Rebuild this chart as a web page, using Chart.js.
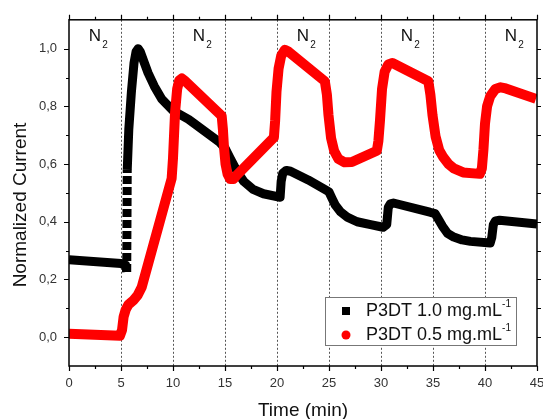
<!DOCTYPE html>
<html>
<head>
<meta charset="utf-8">
<script src="https://cdn.jsdelivr.net/npm/chart.js@4.4.0/dist/chart.umd.min.js"></script>
<style>
  html, body { margin: 0; padding: 0; background: #fff; overflow: hidden; }
  canvas { display: block; }
</style>
</head>
<body>
<canvas id="currentChart" width="560" height="419"></canvas>
<script>
// P3DT 1.0 mg/mL (black)
var timeHigh = [0, 5.0, 5.45, 5.55, 5.6, 5.75, 6.0, 6.25, 6.45, 6.65, 6.85, 7.2, 7.6, 8.2, 8.9, 10, 11.5, 13, 14.5, 15.0, 15.5, 16.2, 16.8, 17.7, 18.7, 20.3, 20.4, 20.55, 20.9, 21.3, 23, 24.8, 25.0, 25.3, 25.6, 26.1, 26.8, 27.7, 29, 30.2, 30.55, 30.7, 30.9, 31.2, 34.7, 35.2, 35.5, 35.9, 36.4, 37.0, 37.8, 38.6, 40.5, 40.65, 40.8, 41.0, 41.4, 45];
var currentHigh = [0.268, 0.255, 0.25, 0.226, 0.58, 0.72, 0.85, 0.95, 0.99, 1.0, 0.99, 0.955, 0.916, 0.87, 0.826, 0.785, 0.755, 0.715, 0.675, 0.655, 0.62, 0.572, 0.54, 0.512, 0.497, 0.485, 0.54, 0.568, 0.578, 0.575, 0.545, 0.508, 0.503, 0.48, 0.458, 0.435, 0.415, 0.40, 0.39, 0.381, 0.39, 0.45, 0.462, 0.465, 0.433, 0.428, 0.41, 0.385, 0.36, 0.347, 0.337, 0.332, 0.326, 0.345, 0.39, 0.403, 0.405, 0.392];

// P3DT 0.5 mg/mL (red)
var timeLow = [0, 4.9, 5.1, 5.25, 5.45, 5.7, 6.2, 6.6, 7.0, 9.87, 10.0, 10.2, 10.4, 10.6, 10.85, 11.1, 14.68, 14.8, 14.9, 15.05, 15.25, 15.5, 15.8, 16.1, 19.7, 19.82, 19.95, 20.15, 20.4, 20.75, 21.1, 24.6, 24.8, 24.95, 25.2, 25.5, 25.9, 26.5, 27.2, 29.6, 29.75, 29.9, 30.1, 30.35, 30.7, 31.1, 34.55, 34.75, 34.95, 35.25, 35.6, 36.0, 36.5, 37.0, 37.9, 39.5, 39.7, 39.85, 40.0, 40.2, 40.5, 41.0, 41.5, 42, 44.9];
var currentLow = [0.012, 0.005, 0.025, 0.07, 0.095, 0.112, 0.128, 0.145, 0.174, 0.55, 0.62, 0.78, 0.86, 0.89, 0.897, 0.89, 0.767, 0.72, 0.66, 0.60, 0.565, 0.548, 0.548, 0.56, 0.692, 0.75, 0.85, 0.93, 0.975, 0.996, 0.99, 0.887, 0.84, 0.77, 0.69, 0.645, 0.618, 0.606, 0.607, 0.646, 0.68, 0.75, 0.86, 0.92, 0.945, 0.95, 0.887, 0.84, 0.77, 0.695, 0.648, 0.623, 0.60, 0.585, 0.571, 0.566, 0.585, 0.65, 0.74, 0.80, 0.835, 0.86, 0.866, 0.862, 0.826];

var xTicks = [0, 5, 10, 15, 20, 25, 30, 35, 40, 45];
var yTicks = [0, 0.2, 0.4, 0.6, 0.8, 1.0];
var nitrogenAt = [2.5, 12.5, 22.5, 32.5, 42.5];
var seriesLabels = ['P3DT 1.0 mg.mL', 'P3DT 0.5 mg.mL'];
var yTitle = 'Normalized Current';

var FONT = "'Liberation Sans', Arial, sans-serif";

function toPoints(xs, ys) {
    return xs.map(function (x, i) { return { x: x, y: ys[i] }; });
}

// segment of the black trace that Origin drew as separate squares
var jumpIndex = 3;

var decorations = {
    id: 'decorations',
    afterDraw: function (chart) {
        var c = chart.ctx, a = chart.chartArea;
        var xs = chart.scales.x, ys = chart.scales.y;
        c.save();

        // frame
        c.strokeStyle = '#000';
        c.lineWidth = 1.5;
        c.strokeRect(a.left, a.top, a.right - a.left, a.bottom - a.top);

        // ticks, outward on all four sides
        c.lineWidth = 1.2;
        c.beginPath();
        for (var t = 0; t <= 45; t += 2.5) {
            var px = Math.round(xs.getPixelForValue(t)) + 0.5;
            var len = (t % 5 === 0) ? 5 : 3;
            c.moveTo(px, a.bottom); c.lineTo(px, a.bottom + len);
            c.moveTo(px, a.top); c.lineTo(px, a.top - len);
        }
        for (var k = 0; k <= 10; k++) {
            var py = Math.round(ys.getPixelForValue(k / 10)) + 0.5;
            var l2 = (k % 2 === 0) ? 5 : 3;
            c.moveTo(a.left, py); c.lineTo(a.left - l2, py);
            c.moveTo(a.right, py); c.lineTo(a.right + 4, py);
        }
        c.stroke();

        // y axis title
        c.save();
        c.translate(21, 205);
        c.rotate(-Math.PI / 2);
        c.fillStyle = '#111';
        c.font = '19px ' + FONT;
        c.textAlign = 'center';
        c.textBaseline = 'middle';
        c.fillText(yTitle, 0, 0);
        c.restore();

        // N2 labels
        c.fillStyle = '#111';
        c.textBaseline = 'alphabetic';
        nitrogenAt.forEach(function (v) {
            var x = xs.getPixelForValue(v);
            var y = ys.getPixelForValue(1.025);
            c.font = '17px ' + FONT;
            c.textAlign = 'center';
            c.fillText('N', x, y);
            var w = c.measureText('N').width;
            c.font = '10px ' + FONT;
            c.textAlign = 'left';
            c.fillText('2', x + w / 2 + 1, y + 7);
        });

        // legend box
        var bw = 191, bh = 48;
        var bx = a.right - 21 - bw, by = a.bottom - 21 - bh;
        c.fillStyle = '#fff';
        c.fillRect(bx, by, bw, bh);
        c.strokeStyle = '#777';
        c.lineWidth = 1;
        c.strokeRect(bx + 0.5, by + 0.5, bw, bh);

        var mx = bx + 21;
        c.fillStyle = '#000';
        c.fillRect(mx - 4, by + 14 - 4, 8, 8);
        c.fillStyle = '#f00';
        c.beginPath();
        c.arc(mx, by + 38, 4.5, 0, Math.PI * 2);
        c.fill();

        c.fillStyle = '#111';
        c.textAlign = 'left';
        c.textBaseline = 'middle';
        [by + 14, by + 38].forEach(function (ty, i) {
            c.font = '18px ' + FONT;
            c.fillText(seriesLabels[i], bx + 41, ty);
            var w = c.measureText(seriesLabels[i]).width;
            c.font = '10px ' + FONT;
            c.fillText('-1', bx + 41 + w, ty - 7);
        });

        c.restore();
    }
};

var ctx = document.getElementById('currentChart').getContext('2d');

var currentChart = new Chart(ctx, {
    type: 'line',
    data: {
        datasets: [{
            label: seriesLabels[0],
            data: toPoints(timeHigh, currentHigh),
            borderColor: '#000',
            borderWidth: 9,
            borderJoinStyle: 'round',
            tension: 0,
            pointRadius: 0,
            fill: false,
            order: 2,
            segment: {
                borderDash: function (s) { return s.p0DataIndex === jumpIndex ? [8, 3] : undefined; }
            }
        }, {
            label: seriesLabels[1],
            data: toPoints(timeLow, currentLow),
            borderColor: '#f00',
            borderWidth: 10,
            borderJoinStyle: 'round',
            tension: 0,
            pointRadius: 0,
            fill: false,
            order: 1
        }]
    },
    options: {
        responsive: false,
        animation: false,
        devicePixelRatio: 1,
        layout: { padding: { top: 18, right: 23, left: 0, bottom: 0 } },
        plugins: {
            legend: { display: false },
            tooltip: { enabled: false }
        },
        scales: {
            x: {
                type: 'linear',
                position: 'bottom',
                min: 0,
                max: 45,
                afterBuildTicks: function (s) { s.ticks = xTicks.map(function (v) { return { value: v }; }); },
                afterFit: function (s) { s.height = 53; },
                grid: {
                    drawTicks: false,
                    lineWidth: 1,
                    color: function (c) {
                        var v = c.tick ? c.tick.value : 0;
                        return (v === 0 || v === 45) ? 'rgba(0,0,0,0)' : '#555';
                    }
                },
                border: { display: false, dash: [2, 2] },
                ticks: {
                    padding: 10,
                    maxRotation: 0,
                    color: '#333',
                    font: { family: FONT, size: 13 }
                },
                title: {
                    display: true,
                    text: 'Time (min)',
                    color: '#111',
                    padding: { top: 0, bottom: -3 },
                    font: { family: FONT, size: 19 }
                }
            },
            y: {
                min: -0.1,
                max: 1.1,
                afterBuildTicks: function (s) { s.ticks = yTicks.map(function (v) { return { value: v }; }); },
                afterFit: function (s) { s.width = 69; },
                grid: { display: false, drawTicks: false },
                border: { display: false },
                ticks: {
                    padding: 12,
                    color: '#333',
                    font: { family: FONT, size: 13 },
                    callback: function (v) { return v.toFixed(1).replace('.', ','); }
                }
            }
        }
    },
    plugins: [decorations]
});
</script>
</body>
</html>
